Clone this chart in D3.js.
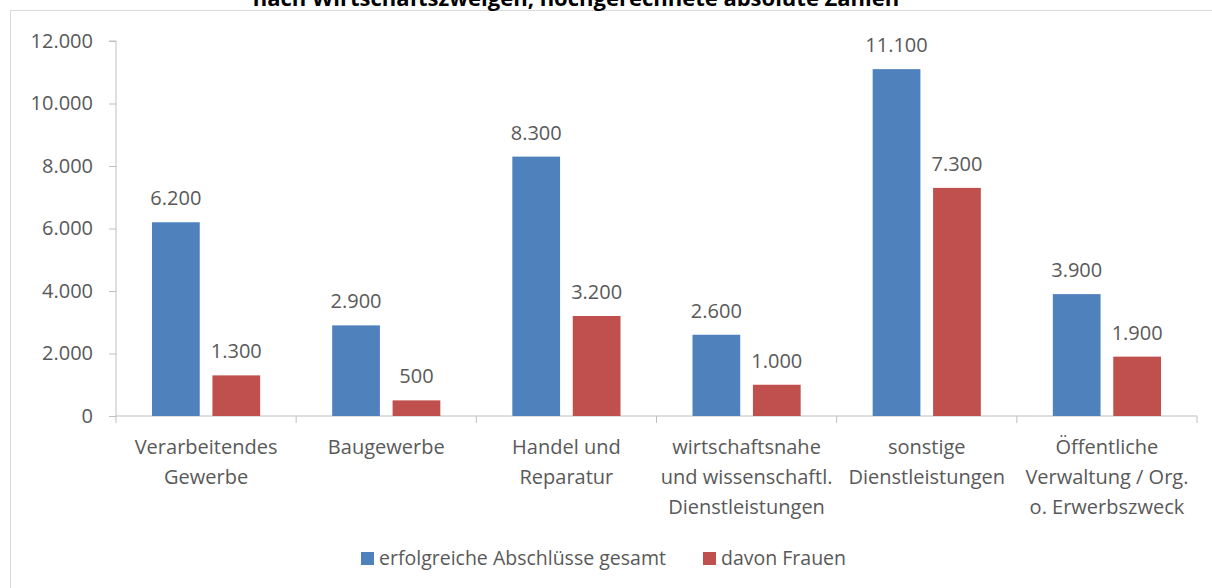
<!DOCTYPE html>
<html>
<head>
<meta charset="utf-8">
<script src="https://cdn.jsdelivr.net/npm/d3@7"></script>
<style>
  body { margin: 0; background: #fff; }
  text { font-family: "Open Sans", sans-serif; fill: #595959; }
</style>
</head>
<body>
<div id="chart"></div>
<script>
const categories = [
    ["Verarbeitendes", "Gewerbe"],
    ["Baugewerbe"],
    ["Handel und", "Reparatur"],
    ["wirtschaftsnahe", "und wissenschaftl.", "Dienstleistungen"],
    ["sonstige", "Dienstleistungen"],
    ["Öffentliche", "Verwaltung / Org.", "o. Erwerbszweck"]
];
const seriesNames = ["erfolgreiche Abschlüsse gesamt", "davon Frauen"];
const gesamt = [6200, 2900, 8300, 2600, 11100, 3900];
const frauen = [1300, 500, 3200, 1000, 7300, 1900];
const yTicks = [0, 2000, 4000, 6000, 8000, 10000, 12000];
const titleText = "nach Wirtschaftszweigen, hochgerechnete absolute Zahlen";

const colors = ["#4F81BD", "#C0504D"];
const W = 1212, H = 588;
const fmt = d3.format(",.0f");
const de = v => fmt(v).replace(/,/g, ".");

var svg = d3.select("#chart").append("svg")
    .attr("width", W)
    .attr("height", H);

// outer chart border
svg.append("rect")
    .attr("x", 10.5).attr("y", 10.5)
    .attr("width", W + 10).attr("height", H + 10)
    .attr("fill", "none")
    .attr("stroke", "#D9D9D9");

// title is cut off at the top in the original too
svg.append("text")
    .attr("x", 576).attr("y", 6)
    .attr("text-anchor", "middle")
    .style("font-weight", "bold")
    .style("font-size", "22px")
    .style("fill", "#000")
    .text(titleText);

var margin = { left: 116, right: 1197, top: 41, bottom: 416 };

var keys = categories.map(function(d, i) { return i; });
var x0 = d3.scaleBand().domain(keys).range([margin.left, margin.right]);
var x1 = d3.scaleBand().domain([0, 1]).range([36, x0.bandwidth() - 36]).paddingInner(0.21);
var y = d3.scaleLinear().domain([0, 12000]).range([margin.bottom, margin.top]);

// y axis
var yAxis = svg.append("g")
    .attr("transform", "translate(" + margin.left + ",0)")
    .call(d3.axisLeft(y).tickValues(yTicks).tickSize(7).tickPadding(16).tickFormat(de));
yAxis.select(".domain").attr("stroke", "#BFBFBF").attr("d", "M-7," + margin.top + "H0V" + margin.bottom);
yAxis.selectAll(".tick line").attr("stroke", "#BFBFBF");
yAxis.selectAll(".tick text").style("font-size", "20px").style("fill", "#595959").attr("font-family", null);

// x axis line + separator ticks
var xAxis = svg.append("g");
xAxis.append("line")
    .attr("x1", margin.left).attr("x2", margin.right)
    .attr("y1", margin.bottom).attr("y2", margin.bottom)
    .attr("stroke", "#BFBFBF");
xAxis.selectAll(".sep")
    .data(d3.range(categories.length + 1))
    .enter().append("line")
    .attr("x1", function(d) { return margin.left + d * x0.step(); })
    .attr("x2", function(d) { return margin.left + d * x0.step(); })
    .attr("y1", margin.bottom).attr("y2", margin.bottom + 7)
    .attr("stroke", "#BFBFBF");

// category labels
var catLabel = svg.selectAll(".cat")
    .data(categories)
    .enter().append("text")
    .attr("class", "cat")
    .attr("text-anchor", "middle")
    .style("font-size", "20px");
catLabel.selectAll("tspan")
    .data(function(d, i) { return d.map(function(t) { return { t: t, i: i }; }); })
    .enter().append("tspan")
    .attr("x", function(d) { return x0(d.i) + x0.bandwidth() / 2; })
    .attr("y", function(d, j) { return 454 + j * 30; })
    .text(function(d) { return d.t; });

// bars
var rows = keys.map(function(i) { return [gesamt[i], frauen[i]]; });
var group = svg.selectAll(".grp")
    .data(rows)
    .enter().append("g")
    .attr("class", "grp")
    .attr("transform", function(d, i) { return "translate(" + x0(i) + ",0)"; });

group.selectAll("rect")
    .data(function(d) { return d; })
    .enter().append("rect")
    .attr("x", function(d, j) { return x1(j); })
    .attr("y", function(d) { return y(d); })
    .attr("width", x1.bandwidth())
    .attr("height", function(d) { return y(0) - y(d); })
    .attr("fill", function(d, j) { return colors[j]; });

group.selectAll(".val")
    .data(function(d) { return d; })
    .enter().append("text")
    .attr("class", "val")
    .attr("x", function(d, j) { return x1(j) + x1.bandwidth() / 2; })
    .attr("y", function(d) { return y(d) - 17; })
    .attr("text-anchor", "middle")
    .style("font-size", "20px")
    .text(function(d) { return de(d); });

// legend
var legend = svg.selectAll(".leg")
    .data(seriesNames)
    .enter().append("g")
    .attr("class", "leg")
    .attr("transform", function(d, i) { return "translate(" + [361, 703][i] + ",552)"; });
legend.append("rect")
    .attr("width", 13).attr("height", 13)
    .attr("fill", function(d, i) { return colors[i]; });
legend.append("text")
    .attr("x", 18).attr("y", 13)
    .style("font-size", "19.5px")
    .text(function(d) { return d; });
</script>
</body>
</html>
